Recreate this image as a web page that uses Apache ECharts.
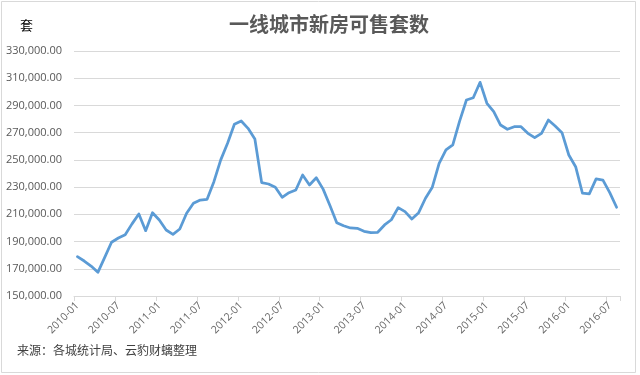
<!DOCTYPE html>
<html>
<head>
<meta charset="utf-8">
<script src="https://cdn.jsdelivr.net/npm/echarts@6/dist/echarts.min.js"></script>
<style>
html,body{margin:0;padding:0;background:#fff;}
#chart{width:640px;height:375px;}
</style>
</head>
<body>
<div id="chart"></div>
<script>
var titleText = '一线城市新房可售套数';
var unitText = '套';
var sourceText = '来源：各城统计局、云豹财螭整理';

var categories = [
 '2010-01','2010-02','2010-03','2010-04','2010-05','2010-06','2010-07','2010-08','2010-09','2010-10','2010-11','2010-12',
 '2011-01','2011-02','2011-03','2011-04','2011-05','2011-06','2011-07','2011-08','2011-09','2011-10','2011-11','2011-12',
 '2012-01','2012-02','2012-03','2012-04','2012-05','2012-06','2012-07','2012-08','2012-09','2012-10','2012-11','2012-12',
 '2013-01','2013-02','2013-03','2013-04','2013-05','2013-06','2013-07','2013-08','2013-09','2013-10','2013-11','2013-12',
 '2014-01','2014-02','2014-03','2014-04','2014-05','2014-06','2014-07','2014-08','2014-09','2014-10','2014-11','2014-12',
 '2015-01','2015-02','2015-03','2015-04','2015-05','2015-06','2015-07','2015-08','2015-09','2015-10','2015-11','2015-12',
 '2016-01','2016-02','2016-03','2016-04','2016-05','2016-06','2016-07','2016-08'
];

var values = [
 178900,175700,172000,167400,178400,189500,192600,195000,203000,210300,198000,211200,
 205800,198500,195300,199200,210800,218100,220500,221000,234000,250000,262200,276200,
 278600,273200,265400,233300,232300,229900,222500,225900,227900,238900,231600,236900,
 228500,216500,203900,201600,200000,199700,197500,196500,196800,202200,206000,214900,
 212000,206600,211200,221800,229900,247500,257300,261000,278500,294000,295700,307000,
 291600,285400,275600,272500,274400,274400,269500,266300,269500,279300,274900,270000,
 253600,245000,225500,225000,236000,235200,225900,215200
];

var yMin = 150000, yMax = 330000, yStep = 20000;

var chart = echarts.init(document.getElementById('chart'), null, {renderer:'canvas'});

function fmt(v){
  var s = Math.round(v).toString().replace(/\B(?=(\d{3})+(?!\d))/g, ',');
  return s + '.00';
}

chart.setOption({
  animation:false,
  backgroundColor:'#ffffff',
  title:{
    text:titleText,
    left:324, top:9, textAlign:'center',
    textStyle:{fontFamily:'Noto Sans CJK SC',fontSize:20,fontWeight:'bold',color:'#595959'}
  },
  graphic:[
    {type:'rect',shape:{x:1.5,y:1.5,width:634,height:371},style:{fill:'none',stroke:'#D9D9D9',lineWidth:1},silent:true},
    {type:'text',left:20,top:19,style:{text:unitText,font:'13px "Noto Sans CJK SC"',fill:'#000000'}},
    {type:'text',left:17,top:344,style:{text:sourceText,font:'12px "Noto Sans CJK SC"',fill:'#404040'}}
  ],
  grid:{left:74,right:20,top:51,bottom:79,containLabel:false},
  xAxis:{
    type:'category',
    data:categories,
    boundaryGap:true,
    axisLine:{show:true,lineStyle:{color:'#D9D9D9',width:1}},
    axisTick:{show:true,interval:5,length:5,lineStyle:{color:'#D9D9D9'}},
    axisLabel:{interval:5,rotate:45,fontSize:10.5,color:'#666666',fontFamily:'Open Sans',margin:8},
    z:2
  },
  yAxis:{
    type:'value',
    min:yMin,max:yMax,interval:yStep,
    axisLine:{show:false},
    axisTick:{show:false},
    axisLabel:{formatter:fmt,fontSize:11,color:'#595959',fontFamily:'Open Sans',margin:12},
    splitLine:{lineStyle:{color:'#D9D9D9',width:1}}
  },
  series:[{
    type:'line',
    data:values,
    symbol:'none',
    lineStyle:{color:'#5B9BD5',width:2.75,join:'round',cap:'round'},
    itemStyle:{color:'#5B9BD5'}
  }]
});
</script>
</body>
</html>
